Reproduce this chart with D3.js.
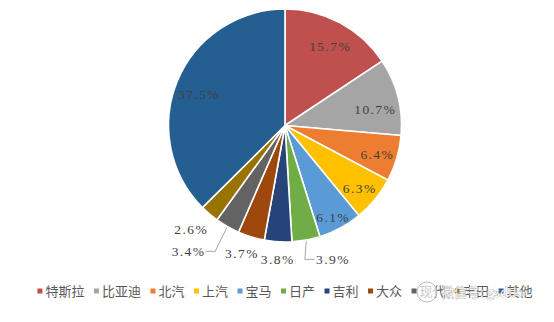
<!DOCTYPE html>
<html>
<head>
<meta charset="utf-8">
<script src="https://cdn.jsdelivr.net/npm/d3@7"></script>
<style>
  body { margin: 0; background: #fff; }
  svg { display: block; }
</style>
</head>
<body>
<svg width="554" height="322"></svg>
<script>
const svg = d3.select('svg');
const width = +svg.attr('width');

// data
const brands = ['特斯拉', '比亚迪', '北汽', '上汽', '宝马', '日产', '吉利', '大众', '现代', '丰田', '其他'];
const shares = [15.7, 10.7, 6.4, 6.3, 6.1, 3.9, 3.8, 3.7, 3.4, 2.6, 37.5];
const labels = ['15.7%', '10.7%', '6.4%', '6.3%', '6.1%', '3.9%', '3.8%', '3.7%', '3.4%', '2.6%', '37.5%'];
const colors = ['#C0504D', '#A5A5A5', '#ED7D31', '#FFC000', '#5B9BD5', '#70AD47',
                '#264478', '#9E480E', '#636363', '#997300', '#255E91'];

// label placement (radius, angle shift in degrees, leader line?)
const labelLayout = [
  {r: 91, da: 1}, {r: 91, da: 4}, {r: 96, da: 1}, {r: 97, da: 1}, {r: 103, da: 1},
  {r: 142, da: -9, lead: 1}, {r: 134, da: 0}, {r: 135, da: 2}, {r: 159, da: 8, lead: -1},
  {r: 140, da: 2}, {r: 92, da: -3}
];

const cx = 285, cy = 125.5, R = 116.5;
const numFont = '"Liberation Serif", serif';
const cjkFont = '"Noto Sans CJK SC", sans-serif';

const pie = d3.pie().sort(null).value(d => d)(shares);
const arc = d3.arc().innerRadius(0).outerRadius(R);

const g = svg.append('g').attr('transform', `translate(${cx},${cy})`);

g.selectAll('path').data(pie)
  .enter().append('path')
    .attr('d', arc)
    .attr('fill', (d, i) => colors[i])
    .attr('stroke', '#fff')
    .attr('stroke-width', 1.6);

const polar = (r, a) => [r * Math.sin(a), -r * Math.cos(a)];

pie.forEach((d, i) => {
  const L = labelLayout[i];
  const mid = (d.startAngle + d.endAngle) / 2;
  const [x, y] = polar(L.r, mid + L.da * Math.PI / 180);
  const t = g.append('text')
    .attr('x', x + 0.7).attr('y', y)
    .attr('dy', '0.35em')
    .attr('text-anchor', 'middle')
    .style('font-family', numFont)
    .style('font-size', '13.5px')
    .style('letter-spacing', '1.4px')
    .attr('fill', '#404040')
    .text(labels[i]);
  if (L.lead) {
    const w = t.node().getComputedTextLength();
    const [ax, ay] = polar(R + 1, mid);
    const ex = x - L.lead * (w / 2 + 1);
    const bx = ex - L.lead * 9.5;
    g.append('path')
      .attr('d', `M${ax},${ay}L${bx},${y}L${ex},${y}`)
      .attr('fill', 'none')
      .attr('stroke', '#A6A6A6')
      .attr('stroke-width', 1);
  }
});

// legend
const legend = svg.append('g').attr('transform', 'translate(0,291)');
const items = legend.selectAll('g').data(brands).enter().append('g');
items.append('rect')
  .attr('width', 5).attr('height', 5)
  .attr('y', -2.5)
  .attr('fill', (d, i) => colors[i]);
items.append('text')
  .attr('x', 8)
  .attr('dy', '0.35em')
  .style('font-family', cjkFont)
  .style('font-size', '13px')
  .attr('fill', '#595959')
  .text(d => d);

let widths = [];
items.each(function () { widths.push(8 + d3.select(this).select('text').node().getComputedTextLength()); });
const gap = 9.5;
const total = d3.sum(widths) + gap * (widths.length - 1);
let pos = cx - total / 2;
items.attr('transform', (d, i) => {
  const x = pos;
  pos += widths[i] + gap;
  return `translate(${x},0)`;
});

// watermark
const wm = svg.append('g').attr('opacity', 0.85);
wm.append('circle').attr('cx', 427).attr('cy', 292).attr('r', 10)
  .attr('fill', 'rgba(255,255,255,0.8)').attr('stroke', '#999').attr('stroke-width', 0.8);
wm.append('text')
  .attr('x', 441).attr('y', 292).attr('dy', '0.35em')
  .style('font-family', cjkFont)
  .style('font-size', '13px')
  .attr('fill', '#fff')
  .attr('stroke', '#8a8a8a')
  .attr('stroke-width', 0.7)
  .attr('paint-order', 'stroke')
  .text('微信号: gsdtkv');
</script>
</body>
</html>
